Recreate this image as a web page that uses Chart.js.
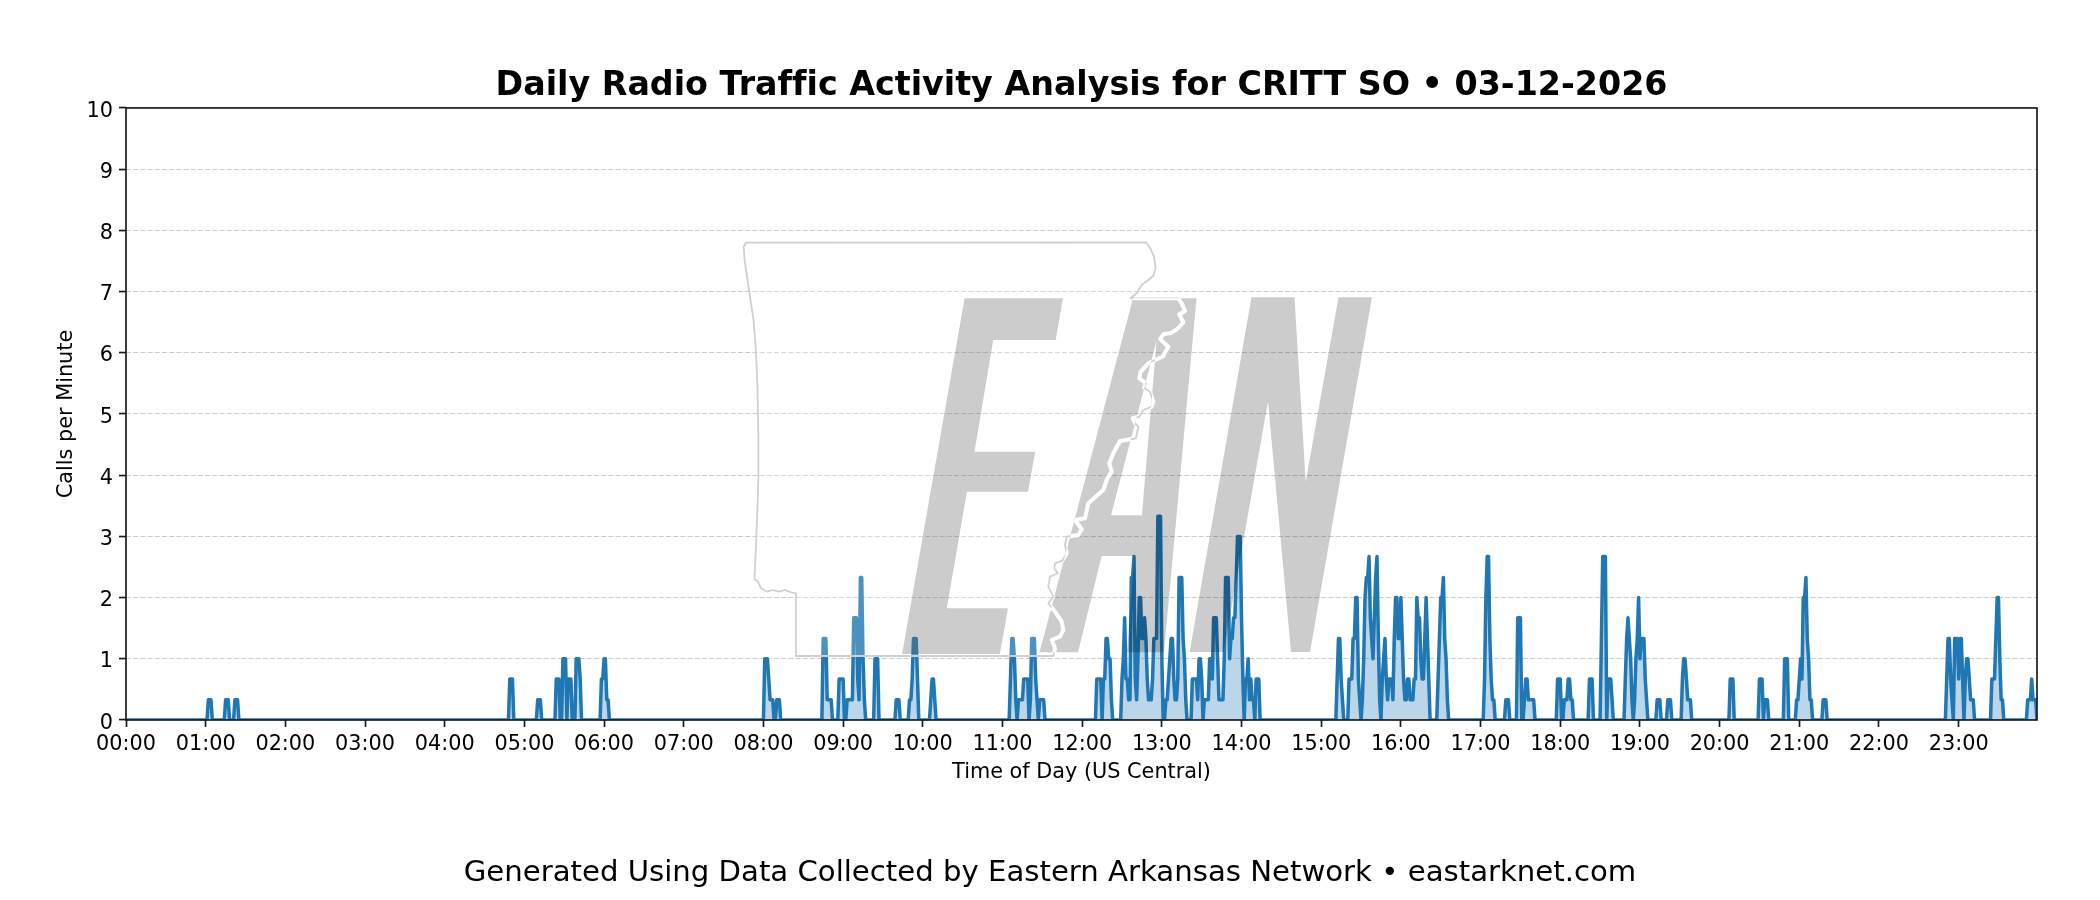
<!DOCTYPE html>
<html><head><meta charset="utf-8">
<style>html,body{margin:0;padding:0;background:#fff}canvas{display:block}</style>
<script src="https://cdn.jsdelivr.net/npm/chart.js@4"></script>
</head><body><canvas id="c" width="2100" height="900"></canvas>
<script>
const hourLabels=["00:00","01:00","02:00","03:00","04:00","05:00","06:00","07:00","08:00","09:00","10:00","11:00","12:00","13:00","14:00","15:00","16:00","17:00","18:00","19:00","20:00","21:00","22:00","23:00"];
const yTicks=[0,1,2,3,4,5,6,7,8,9,10];
// [minute of day, calls per minute]
const overnightCalls=[[0,0],[61,0],[62,.33],[63,.33],[64,.33],[65,0],[74,0],[75,.33],[76,.33],[77,.33],[78,0],[81,0],[82,.33],[83,.33],[84,.33],[85,0],
[288,0],[289,.67],[290,.67],[291,.67],[292,0],[309,0],[310,.33],[311,.33],[312,.33],[313,0],
[323,0],[324,.67],[325,.67],[326,.67],[327,0],[328,0],[329,1],[330,1],[331,1],[332,0],[333,.67],[334,.67],[335,.67],[336,0],[338,0],[339,1],[340,1],[341,1],[342,.67],[343,0],
[357,0],[358,.67],[359,.67],[360,1],[361,1],[362,.33],[363,.33],[364,0]];
const morningCalls=[[480,0],[481,1],[482,1],[483,1],[484,.67],[485,.33],[486,.33],[487,.33],[488,0],[489,0],[490,.33],[491,.33],[492,.33],[493,0],
[524,0],[525,1.33],[526,1.33],[527,1.33],[528,.33],[529,.33],[530,.33],[531,.33],[532,0],
[536,0],[537,.67],[538,.67],[539,.67],[540,.67],[541,0],[542,0],[543,.33],[544,.33],[545,.33],[546,.33],[547,.33],[548,1.67],[549,1.67],[550,1.67],[551,.67],[552,.33],[553,2.33],[554,2.33],[555,1],[556,.33],[557,0],
[563,0],[564,1],[565,1],[566,1],[567,0],[579,0],[580,.33],[581,.33],[582,.33],[583,0],
[589,0],[590,.33],[591,.33],[592,.67],[593,1.33],[594,1.33],[595,1.33],[596,.67],[597,0],[605,0],[606,.33],[607,.67],[608,.67],[609,.33],[610,0],
[665,0],[666,.67],[667,1.33],[668,1.33],[669,1],[670,.33],[671,0],[672,.33],[673,.33],[674,.33],[675,.33],[676,.67],[677,.67],[678,.67],[679,.67],[680,0],[681,.33],[682,1.33],[683,1.33],[684,1.33],[685,.67],[686,.33],[687,0],[688,.33],[689,.33],[690,.33],[691,.33],[692,0]];
const middayCalls=[[730,0],[731,.67],[732,.67],[733,.67],[734,.67],[735,0],[736,.67],[737,.67],[738,1.33],[739,1.33],[740,1],[741,1],[742,.33],[743,0],
[749,0],[750,.67],[751,1],[752,1.67],[753,.67],[754,.67],[755,.33],[756,.33],[757,2.33],[758,2.33],[759,2.67],[760,.67],[761,.33],[762,1],[763,2],[764,2],[765,1.33],[766,1.33],[767,1.67],[768,1.33],[769,.67],[770,.33],[771,.33],[772,.33],[773,.67],[774,1.33],[775,1.33],[776,1.33],[777,3.33],[778,3.33],[779,3.33],[780,1],[781,0],[782,0],[783,.33],[784,.33],[785,.67],[786,1],[787,1.33],[788,1.33],[789,.67],[790,.33],[791,.33],[792,.67],[793,2.33],[794,2.33],[795,2.33],[796,1.33],[797,1],[798,.33],[799,0],
[802,0],[803,.67],[804,.67],[805,.67],[806,.67],[807,.33],[808,1],[809,1],[810,.67],[811,0],[812,.33],[813,.33],[814,.33],[815,.33],[816,1],[817,1],[818,.67],[819,1.67],[820,1.67],[821,1.67],[822,1],[823,.33],[824,.33],[825,.33],[826,.33],[827,1],[828,2.33],[829,2.33],[830,2.33],[831,1],[832,1.33],[833,1.33],[834,1.67],[835,1.67],[836,2.33],[837,3],[838,3],[839,3],[840,1.67],[841,.67],[842,0],[843,.67],[844,.67],[845,1],[846,.33],[847,.67],[848,.33],[849,.33],[850,0],[851,.67],[852,.67],[853,.67],[854,0]];
const afternoonCalls=[[911,0],[912,.67],[913,1.33],[914,1.33],[915,.67],[916,.33],[917,0],
[920,0],[921,.67],[922,.67],[923,.67],[924,1.33],[925,1.33],[926,2],[927,2],[928,.67],[929,.33],[930,0],[931,.33],[932,1],[933,2],[934,2.33],[935,2.33],[936,2.67],[937,1.67],[938,1.33],[939,1],[940,1.67],[941,2.33],[942,2.67],[943,1.33],[944,.33],[945,0],[946,.67],[947,1],[948,1.33],[949,.67],[950,.33],[951,.67],[952,.67],[953,.67],[954,.33],[955,1.33],[956,2],[957,2],[958,1.33],[959,1.33],[960,2],[961,1.33],[962,.67],[963,.33],[964,.33],[965,.67],[966,.67],[967,.33],[968,.33],[969,.33],[970,.67],[971,.67],[972,2],[973,1.67],[974,1.67],[975,1],[976,.67],[977,.67],[978,1.33],[979,2],[980,1.33],[981,.67],[982,0],
[987,0],[988,.67],[989,1.33],[990,2],[991,2],[992,2.33],[993,1.33],[994,1],[995,.33],[996,0],
[1022,0],[1023,.67],[1024,2],[1025,2.67],[1026,2.67],[1027,1.33],[1028,.67],[1029,.33],[1030,.33],[1031,0],[1038,0],[1039,.33],[1040,.33],[1041,.33],[1042,0],
[1047,0],[1048,1.67],[1049,1.67],[1050,1.67],[1051,0],[1052,0],[1053,.33],[1054,.67],[1055,.67],[1056,.33],[1057,.33],[1058,.33],[1059,.33],[1060,.33],[1061,0]];
const eveningCalls=[[1077,0],[1078,.67],[1079,.67],[1080,.67],[1081,0],[1082,0],[1083,.33],[1084,.33],[1085,.33],[1086,.67],[1087,.67],[1088,.33],[1089,.33],[1090,0],
[1101,0],[1102,.67],[1103,.67],[1104,.67],[1105,0],[1110,0],[1111,1.33],[1112,2.67],[1113,2.67],[1114,2.67],[1115,0],[1116,.67],[1117,.67],[1118,.67],[1119,.33],[1120,0],
[1128,0],[1129,.67],[1130,1.33],[1131,1.67],[1132,1.33],[1133,1],[1134,.33],[1135,0],[1136,.33],[1137,1],[1138,1.33],[1139,2],[1140,1],[1141,1.33],[1142,1.33],[1143,1.33],[1144,.67],[1145,.33],[1146,0],
[1152,0],[1153,.33],[1154,.33],[1155,.33],[1156,0],[1160,0],[1161,.33],[1162,.33],[1163,.33],[1164,0],
[1171,0],[1172,.67],[1173,1],[1174,1],[1175,.67],[1176,.33],[1177,.33],[1178,.33],[1179,0],
[1207,0],[1208,.67],[1209,.67],[1210,.67],[1211,0],[1229,0],[1230,.67],[1231,.67],[1232,.67],[1233,0],[1234,.33],[1235,.33],[1236,.33],[1237,0],
[1248,0],[1249,1],[1250,1],[1251,1],[1252,0],[1257,0],[1258,.33],[1259,.33],[1260,.67],[1261,1],[1262,.67],[1263,2],[1264,2],[1265,2.33],[1266,1.33],[1267,1],[1268,.33],[1269,.33],[1270,0],
[1277,0],[1278,.33],[1279,.33],[1280,.33],[1281,0],
[1370,0],[1371,.67],[1372,1.33],[1373,1.33],[1374,.67],[1375,.33],[1376,0],[1377,1.33],[1378,1.33],[1379,1.33],[1380,.67],[1381,1.33],[1382,1.33],[1383,.67],[1384,0],[1385,.67],[1386,1],[1387,1],[1388,.67],[1389,.33],[1390,.33],[1391,.33],[1392,0],
[1404,0],[1405,.67],[1406,.67],[1407,.67],[1408,1.33],[1409,2],[1410,2],[1411,1],[1412,.33],[1413,.33],[1414,0],
[1431,0],[1432,.33],[1433,.33],[1434,.33],[1435,.67],[1436,.33],[1437,.33],[1438,.33],[1439,0]];
const allCalls=[...overnightCalls,...morningCalls,...middayCalls,...afternoonCalls,...eveningCalls];

const FONT='"DejaVu Sans"';
// Decorative watermark outlines (canvas pixels)
const letterE=[[964.6,298.3],[1062.9,298.3],[1055.7,340],[993.2,340],[974.5,451.7],[1035.2,451.7],[1028,491.7],[966.9,491.7],[946.8,608.3],[1008,608.3],[999.9,654],[902.1,654]];
const letterA=[[1039.6,652.3],[1078,652.3],[1101.7,556],[1134.3,556],[1127,652.3],[1164,652.3],[1196.5,298.3],[1133,298.3]];
const letterAHole=[[1156.6,340.7],[1111,515.3],[1141.9,515.3]];
const letterN=[[1189.6,652],[1223.6,652],[1268,401.7],[1291,652],[1310,652],[1372,297.3],[1338.5,297.3],[1305.7,481.7],[1294.5,297.3],[1251.5,297.3]];
const stateOutline=[[745.9,242.7],[1146,242.3],[1150,247.7],[1154,256.7],[1155.7,268.3],[1153.3,275.7],[1148.3,280],[1141.7,285],[1136.7,293.3],[1130.7,298.3],[1178.3,298.3],[1181.7,303.3],[1185,311],[1179.3,314.3],[1183.3,322.3],[1177.3,329],[1171.7,332.7],[1163.3,334.3],[1160,339],[1168.3,346.7],[1162.7,356.7],[1157.3,359],[1148.3,363.3],[1140.7,371.7],[1139.3,378.3],[1146,383.3],[1144,387.7],[1150,391.7],[1153.3,401.7],[1151.7,406.7],[1143.3,410],[1139.3,416.7],[1132.7,418.3],[1135,423.3],[1138.3,426.7],[1136,438.3],[1120,441],[1113.3,453.3],[1109.3,463.3],[1111.7,471.7],[1107.3,478.3],[1103.3,490],[1088.3,503.3],[1085,518.3],[1075,520],[1081.7,529.3],[1078.3,535],[1066.7,536.7],[1065,545],[1066.7,553.3],[1062.3,560.7],[1055,563.3],[1054.3,568.3],[1057.7,573.3],[1050,576.7],[1048.3,586.7],[1053.3,596.7],[1048.3,603.3],[1055,611.7],[1061.7,621.7],[1063.3,630],[1060,636.7],[1051.7,640],[1055,648.3],[1053.3,656],[795.9,656],[795.9,593.3],[791.4,592.3],[784.7,590],[779,591.7],[772.7,590],[766.9,591.7],[761,588.3],[758,581.7],[754.4,579.3],[755.7,553.3],[757.5,506.7],[758.4,476.7],[758.4,436.7],[757.5,386.7],[755.7,346.7],[753.5,320],[749,290],[744.6,260],[743.7,246.7]];
function tracePoly(ctx,p){p.forEach((q,i)=>i?ctx.lineTo(q[0],q[1]):ctx.moveTo(q[0],q[1]));ctx.closePath();}
function lettersPath(ctx){ctx.beginPath();[letterE,letterA,letterAHole,letterN].forEach(p=>tracePoly(ctx,p));}
const watermark={id:'watermark',afterDatasetsDraw(chart){
  const ctx=chart.ctx;ctx.save();ctx.setLineDash([]);
  ctx.beginPath();tracePoly(ctx,stateOutline);ctx.fillStyle='rgba(255,255,255,0.2)';ctx.fill();
  lettersPath(ctx);ctx.fillStyle='rgba(0,0,0,0.2)';ctx.fill('evenodd');
  ctx.lineJoin='round';
  ctx.beginPath();tracePoly(ctx,stateOutline);ctx.strokeStyle='#d0d0d0';ctx.lineWidth=1.8;ctx.stroke();
  ctx.save();lettersPath(ctx);ctx.clip('evenodd');
  ctx.beginPath();tracePoly(ctx,stateOutline);ctx.strokeStyle='#ffffff';ctx.lineWidth=4;ctx.stroke();
  ctx.restore();ctx.restore();
}};
const frame={id:'frame',afterDraw(chart){
  const a=chart.chartArea,ctx=chart.ctx;ctx.save();ctx.strokeStyle='#1a1a1a';ctx.lineWidth=1.67;ctx.setLineDash([]);
  ctx.strokeRect(a.left,a.top,a.right-a.left,a.bottom-a.top);ctx.restore();
}};
const noLigatures={id:'noLigatures',beforeLayout(chart){chart.ctx.textRendering='optimizeSpeed';},beforeDraw(chart){chart.ctx.textRendering='optimizeSpeed';}};
new Chart(document.getElementById('c'),{
  type:'line',
  data:{datasets:[{label:'Calls per Minute',data:allCalls.map(p=>({x:p[0],y:p[1]})),
    borderColor:'#1f77b4',borderWidth:3.5,borderJoinStyle:'round',borderCapStyle:'square',tension:0,pointRadius:0,
    fill:'origin',backgroundColor:'rgba(31,119,180,0.3)'}]},
  options:{responsive:false,animation:false,devicePixelRatio:1,
    layout:{padding:0},
    plugins:{legend:{display:false},tooltip:{enabled:false},
      title:{display:true,fullSize:false,text:'Daily Radio Traffic Activity Analysis for CRITT SO • 03-12-2026',color:'#000',font:{family:FONT,size:33.3,weight:'bold'},padding:{top:66,bottom:2}},
      subtitle:{display:true,position:'bottom',text:'Generated Using Data Collected by Eastern Arkansas Network • eastarknet.com',color:'#000',font:{family:FONT,size:29.17,weight:'normal'},padding:{top:65.5,bottom:9.5}}},
    scales:{
      x:{type:'linear',min:0,max:1439,
        afterFit(s){s.height=70;},
        afterBuildTicks(s){s.ticks=hourLabels.map((_,i)=>({value:i*60}));},
        title:{display:true,text:'Time of Day (US Central)',color:'#000',font:{family:FONT,size:20.8},padding:{top:0,bottom:5}},
        grid:{drawOnChartArea:false,drawTicks:true,tickLength:7,tickWidth:1.67,tickColor:'#1a1a1a'},
        border:{display:false},
        ticks:{autoSkip:false,maxRotation:0,minRotation:0,color:'#000',font:{family:FONT,size:20.8},padding:5.5,callback:v=>hourLabels[Math.round(v/60)]}},
      y:{min:0,max:10,
        afterFit(s){s.width=126;},
        afterBuildTicks(s){s.ticks=yTicks.map(v=>({value:v}));},
        title:{display:true,text:'Calls per Minute',color:'#000',font:{family:FONT,size:20.8},padding:{top:54.5,bottom:0}},
        grid:{color:'rgba(0,0,0,0.2)',lineWidth:1.1,drawTicks:true,tickLength:7,tickWidth:1.67,tickColor:'#1a1a1a',tickBorderDash:[]},
        border:{display:false,dash:[5,2.2]},
        ticks:{color:'#000',font:{family:FONT,size:20.8},padding:6,labelOffset:3.3}},
      yRight:{position:'right',display:true,min:0,max:10,afterFit(s){s.width=63;},grid:{display:false},border:{display:false},ticks:{display:false}}
    }},
  plugins:[noLigatures,watermark,frame]
});
</script></body></html>
